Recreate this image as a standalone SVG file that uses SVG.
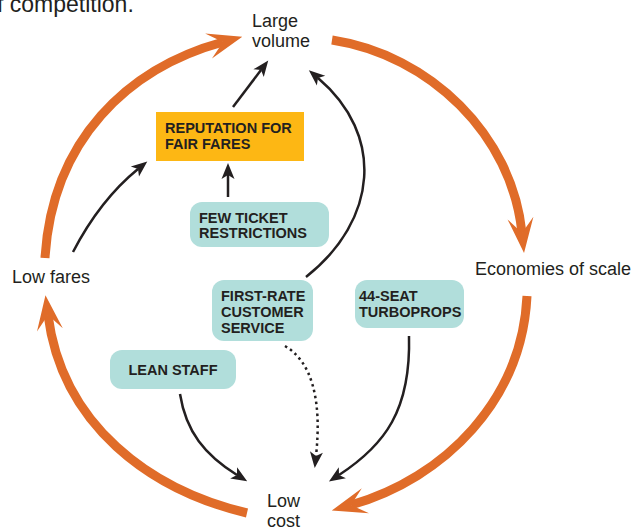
<svg xmlns="http://www.w3.org/2000/svg" width="634" height="527" viewBox="0 0 634 527">
<style>
.lbl{font-family:"Liberation Sans",Arial,sans-serif;font-size:18px;fill:#231f20}
.box{font-family:"Liberation Sans",Arial,sans-serif;font-size:14.5px;font-weight:bold;fill:#231f20}
.teal{fill:#b1dedb}
.gold{fill:#fdb714}
.loop{fill:none;stroke:#e06c29;stroke-width:9}
.link{fill:none;stroke:#231f20;stroke-width:2.5}
.dot{stroke-dasharray:2.5 3.5}
</style>
<defs>
<marker id="oa" markerUnits="userSpaceOnUse" orient="auto" refX="0" refY="0" markerWidth="40" markerHeight="30" overflow="visible">
<path d="M20,0 L-15,-13 L0,0 L-15,13 Z" fill="#e06c29"/>
</marker>
<marker id="ba" markerUnits="userSpaceOnUse" orient="auto" refX="0" refY="0" markerWidth="20" markerHeight="16" overflow="visible">
<path d="M12,0 L-4,-6.5 L0,0 L-4,6.5 Z" fill="#231f20"/>
</marker>
</defs>
<text class="lbl" x="-3" y="12" style="font-size:23px">f competition.</text>
<g id="connectors">
<path class="loop" d="M45,258 C52,140 128,68 223,42" marker-end="url(#oa)"/>
<path class="loop" d="M332,40 C430,55 512,135 522,233" marker-end="url(#oa)"/>
<path class="loop" d="M527,296 C522,400 445,478 351,505" marker-end="url(#oa)"/>
<path class="loop" d="M247,513 C150,490 62,425 48,315" marker-end="url(#oa)"/>
<path class="link" d="M73,252 Q100,200 138,169" marker-end="url(#ba)"/>
<path class="link" d="M233,107 L261,70" marker-end="url(#ba)"/>
<path class="link" d="M228,197 L228,175" marker-end="url(#ba)"/>
<path class="link" d="M306,277 C378,220 385,135 318,78" marker-end="url(#ba)"/>
<path class="link dot" d="M285,346 C312,362 322,400 316,456" marker-end="url(#ba)"/>
<path class="link" d="M180,394 C186,432 205,455 237,475" marker-end="url(#ba)"/>
<path class="link" d="M409,336 C411,410 385,445 339,475" marker-end="url(#ba)"/>
</g>
<g id="large-volume"><text class="lbl" x="252" y="27">Large</text><text class="lbl" x="252" y="47">volume</text></g>
<g id="low-fares"><text class="lbl" x="12" y="283">Low fares</text></g>
<g id="economies"><text class="lbl" x="475" y="275">Economies of scale</text></g>
<g id="low-cost"><text class="lbl" x="267" y="507">Low</text><text class="lbl" x="267" y="527">cost</text></g>
<g id="reputation"><rect class="gold" x="156" y="112" width="148" height="49"/><text class="box" x="165" y="133">REPUTATION FOR</text><text class="box" x="165" y="149">FAIR FARES</text></g>
<g id="few-ticket"><rect class="teal" x="190" y="202" width="139" height="45" rx="12"/><text class="box" x="199" y="223">FEW TICKET</text><text class="box" x="199" y="238">RESTRICTIONS</text></g>
<g id="first-rate"><rect class="teal" x="212" y="280" width="101" height="61" rx="12"/><text class="box" x="221" y="301">FIRST-RATE</text><text class="box" x="221" y="317">CUSTOMER</text><text class="box" x="221" y="333">SERVICE</text></g>
<g id="turboprops"><rect class="teal" x="355" y="280" width="109" height="48" rx="12"/><text class="box" x="359" y="301">44-SEAT</text><text class="box" x="359" y="317">TURBOPROPS</text></g>
<g id="lean-staff"><rect class="teal" x="110" y="350" width="126" height="39" rx="12"/><text class="box" x="173" y="375" text-anchor="middle">LEAN STAFF</text></g>
</svg>
